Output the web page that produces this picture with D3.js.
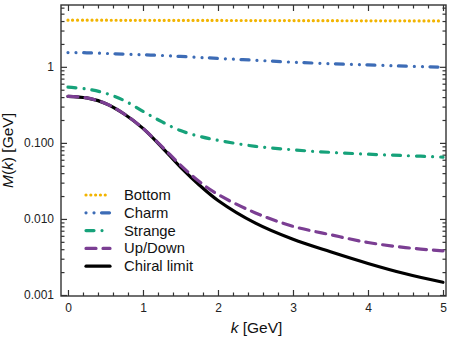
<!DOCTYPE html>
<html>
<head>
<meta charset="utf-8">
<script src="https://cdn.jsdelivr.net/npm/d3@7.9.0/dist/d3.min.js"></script>
<style>
  body { margin: 0; background: #fff; }
  svg { display: block; font-family: "Liberation Sans", Arial, sans-serif; }
  .axis path, .axis line { stroke: #333; }
  .axis text { fill: #222; font-size: 12px; }
</style>
</head>
<body>
<svg id="chart" width="457" height="341"></svg>
<script>
// momentum grid (GeV)
const kValues = [0, 0.25, 0.5, 0.75, 1, 1.25, 1.5, 1.75, 2, 2.5, 3, 3.5, 4, 4.5, 5];

// mass function M(k) in GeV
const bottomM = [4.10, 4.10, 4.10, 4.09, 4.09, 4.08, 4.08, 4.07, 4.07, 4.06, 4.05, 4.04, 4.03, 4.02, 4.01];
const charmM = [1.54, 1.53, 1.50, 1.47, 1.44, 1.41, 1.37, 1.33, 1.29, 1.22, 1.15, 1.10, 1.06, 1.02, 0.99];
const strangeM = [0.54, 0.51, 0.45, 0.36, 0.26, 0.19, 0.145, 0.122, 0.108, 0.090, 0.081, 0.075, 0.071, 0.068, 0.065];
const upDownM = [0.41, 0.39, 0.33, 0.24, 0.155, 0.09, 0.051, 0.031, 0.021, 0.012, 0.0080, 0.0062, 0.0049, 0.0042, 0.0038];
const chiralM = [0.41, 0.39, 0.33, 0.24, 0.155, 0.088, 0.048, 0.028, 0.0175, 0.0088, 0.0054, 0.0037, 0.0026, 0.0019, 0.00147];

const seriesNames = ["Bottom", "Charm", "Strange", "Up/Down", "Chiral limit"];
const seriesValues = [bottomM, charmM, strangeM, upDownM, chiralM];

const xTicks = [0, 1, 2, 3, 4, 5];
const yTicks = [0.001, 0.01, 0.1, 1];
const yTickLabels = ["0.001", "0.010", "0.100", "1"];

// styles
const colors = ["#f2b400", "#3d6cb6", "#16a27a", "#7b3e93", "#000000"];
const dashes = ["0.01 4.8", "0.01 8 0.01 7.5 8 8", "8 8 0.01 8", "10 7", null];

const svg = d3.select("#chart");
const mLeft = 61, mRight = 446, mTop = 5, mBottom = 296;

const x = d3.scaleLinear().domain([-0.093, 5.04]).range([mLeft, mRight]);
const y = d3.scaleLog().domain([0.00097, 6.5]).range([mBottom, mTop]);

svg.append("defs").append("clipPath").attr("id", "clip")
  .append("rect").attr("x", mLeft).attr("y", mTop)
  .attr("width", mRight - mLeft).attr("height", mBottom - mTop);

// minor ticks
const xMinor = d3.range(0, 5.01, 0.2).filter(v => xTicks.indexOf(Math.round(v * 10) / 10) < 0);
let yMinor = [];
yTicks.forEach(d => { for (let m = 2; m <= 9; m++) { if (d * m < 6.5) yMinor.push(d * m); } });

function addAxis(gen, tr, vals, size, labels) {
  const g = svg.append("g").attr("class", "axis").attr("transform", tr)
    .call(gen.tickValues(vals).tickSize(size).tickSizeOuter(0)
      .tickFormat(labels ? ((d, i) => labels[i]) : () => ""));
  g.select(".domain").remove();
  g.selectAll("line").attr("stroke-width", 1.2);
  return g;
}

addAxis(d3.axisBottom(x).tickPadding(7), `translate(0,${mBottom})`, xTicks, -6, xTicks.map(String));
addAxis(d3.axisBottom(x), `translate(0,${mBottom})`, xMinor, -3.5);
addAxis(d3.axisTop(x), `translate(0,${mTop})`, xTicks, -6);
addAxis(d3.axisTop(x), `translate(0,${mTop})`, xMinor, -3.5);
addAxis(d3.axisLeft(y).tickPadding(7), `translate(${mLeft},0)`, yTicks, -6, yTickLabels);
addAxis(d3.axisLeft(y), `translate(${mLeft},0)`, yMinor, -3.5);
addAxis(d3.axisRight(y), `translate(${mRight},0)`, yTicks, -6);
addAxis(d3.axisRight(y), `translate(${mRight},0)`, yMinor, -3.5);

svg.append("rect").attr("x", mLeft).attr("y", mTop)
  .attr("width", mRight - mLeft).attr("height", mBottom - mTop)
  .attr("fill", "none").attr("stroke", "#333").attr("stroke-width", 1.4);

// curves
const line = d3.line()
  .x((d, i) => x(kValues[i]))
  .y(d => y(d))
  .curve(d3.curveCatmullRom.alpha(0.5));

const drawOrder = [4, 3, 2, 1, 0];
const plot = svg.append("g").attr("clip-path", "url(#clip)");
drawOrder.forEach(i => {
  plot.append("path")
    .attr("d", line(seriesValues[i]))
    .attr("fill", "none")
    .attr("stroke", colors[i])
    .attr("stroke-width", 3.2)
    .attr("stroke-linecap", "round")
    .attr("stroke-dasharray", dashes[i]);
});

// legend
const legend = svg.append("g").attr("transform", "translate(86,195)");
seriesNames.forEach((name, i) => {
  const row = legend.append("g").attr("transform", `translate(0,${i * 17.8})`);
  row.append("line").attr("x1", 0).attr("x2", 24).attr("y1", 0).attr("y2", 0)
    .attr("stroke", colors[i]).attr("stroke-width", 3.2)
    .attr("stroke-linecap", "round")
    .attr("stroke-dasharray", dashes[i]);
  row.append("text").attr("x", 38).attr("y", 5)
    .attr("font-size", "14.8px").attr("fill", "#111").text(name);
});

// axis titles
const xt = svg.append("text").attr("x", (mLeft + mRight) / 2 + 3).attr("y", 333)
  .attr("text-anchor", "middle").attr("font-size", "15.5px").attr("fill", "#111");
xt.append("tspan").attr("font-style", "italic").text("k");
xt.append("tspan").text(" [GeV]");

const yt = svg.append("text")
  .attr("transform", `translate(13,${(mTop + mBottom) / 2}) rotate(-90)`)
  .attr("text-anchor", "middle").attr("font-size", "15.5px").attr("fill", "#111");
yt.append("tspan").attr("font-style", "italic").text("M");
yt.append("tspan").text("(");
yt.append("tspan").attr("font-style", "italic").text("k");
yt.append("tspan").text(") [GeV]");
</script>
</body>
</html>
